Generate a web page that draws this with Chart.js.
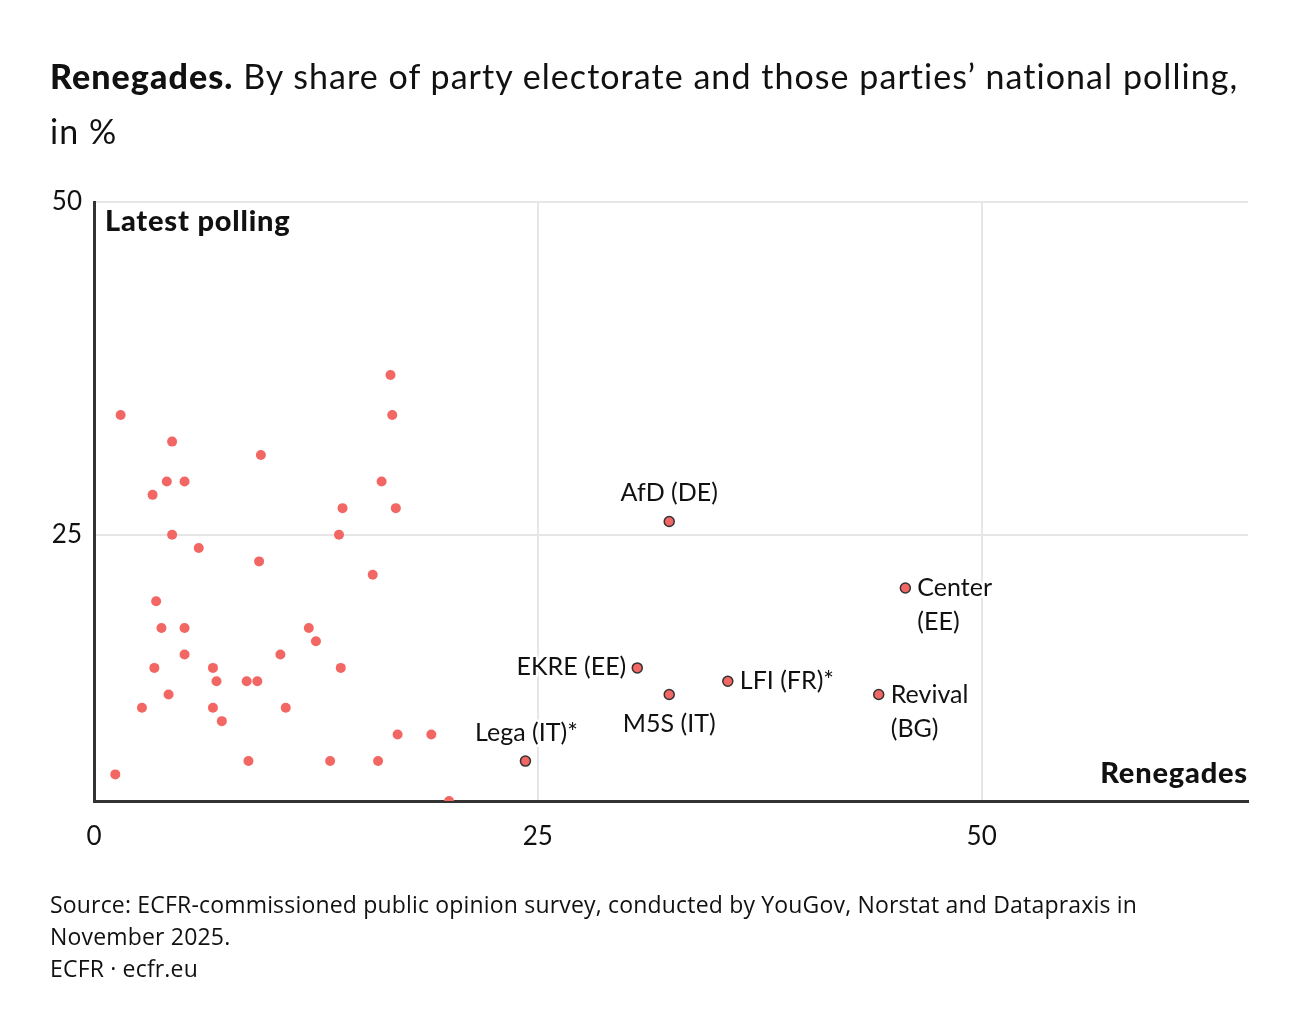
<!DOCTYPE html>
<html>
<head>
<meta charset="utf-8">
<script src="https://cdn.jsdelivr.net/npm/chart.js@4.4.1/dist/chart.umd.min.js"></script>
<style>
  body { margin: 0; background: #fff; font-family: Lato, "Open Sans", sans-serif; color: #111; }
  #wrap { position: relative; width: 1300px; height: 1036px; }
  #chart { position: absolute; left: 0; top: 0; }
  .title { position: absolute; left: 50px; font-size: 34px; line-height: 40px; letter-spacing: 1.05px; white-space: nowrap; }
  .title b { font-weight: 900; }
  .foot { position: absolute; left: 50px; top: 888px; font-size: 23px; line-height: 32px; letter-spacing: 0.18px; font-family: "Open Sans", sans-serif; }
</style>
</head>
<body>
<div id="wrap">
  <canvas id="chart" width="1300" height="1036"></canvas>
  <div class="title" style="top:56px"><b>Renegades.</b> By share of party electorate and those parties’ national polling,</div>
  <div class="title" style="top:111px">in %</div>
  <div class="foot">Source: ECFR-commissioned public opinion survey, conducted by YouGov, Norstat and Datapraxis in<br>November 2025.<br>ECFR · ecfr.eu</div>
</div>
<script>
// other parties (unlabelled)
const renegades = [1.5, 4.4, 9.4, 4.1, 5.1, 3.3, 4.4, 5.9, 9.3, 3.5, 3.8, 5.1, 12.1, 5.1, 10.5, 3.4, 6.7, 6.9, 8.6, 9.2, 4.2, 2.7, 6.7, 10.8, 7.2, 8.7, 1.2,
  16.7, 16.8, 16.2, 14.0, 17.0, 13.8, 15.7, 12.5, 13.9, 17.1, 19.0, 13.3, 16.0, 20.0];
const polling = [34, 32, 31, 29, 29, 28, 25, 24, 23, 20, 18, 18, 18, 16, 16, 15, 15, 14, 14, 14, 13, 12, 12, 12, 11, 8, 7,
  37, 34, 29, 27, 27, 25, 22, 17, 15, 10, 10, 8, 8, 5];

// highlighted parties
const partyNames = ['AfD (DE)', 'Center (EE)', 'EKRE (EE)', 'M5S (IT)', 'LFI (FR)*', 'Lega (IT)*', 'Revival (BG)'];
const partyRenegades = [32.4, 45.7, 30.6, 32.4, 35.7, 24.3, 44.2];
const partyPolling = [26, 21, 15, 13, 14, 8, 13];

const xTicks = [0, 25, 50];
const yTicks = [25, 50];

const red = '#f26764';

// where each label sits relative to its point
const labelPos = {
  'AfD (DE)': { lines: ['AfD (DE)'], align: 'center', dx: 0, dy: -29 },
  'Center (EE)': { lines: ['Center', '(EE)'], align: 'left', dx: 12, dy: 0 },
  'EKRE (EE)': { lines: ['EKRE (EE)'], align: 'right', dx: -11, dy: -1 },
  'M5S (IT)': { lines: ['M5S (IT)'], align: 'center', dx: 0, dy: 29 },
  'LFI (FR)*': { lines: ['LFI (FR)*'], align: 'left', dx: 12, dy: 0 },
  'Lega (IT)*': { lines: ['Lega (IT)*'], align: 'center', dx: 1, dy: -28 },
  'Revival (BG)': { lines: ['Revival', '(BG)'], align: 'left', dx: 12, dy: 0 }
};

const labelsPlugin = {
  id: 'labels',
  afterDatasetsDraw(chart) {
    const ctx = chart.ctx;
    const xs = chart.scales.x, ys = chart.scales.y;
    const area = chart.chartArea;
    ctx.save();
    ctx.textBaseline = 'middle';
    ctx.lineJoin = 'round';

    partyNames.forEach((name, i) => {
      const p = labelPos[name];
      const px = xs.getPixelForValue(partyRenegades[i]) + p.dx;
      const py = ys.getPixelForValue(partyPolling[i]) + p.dy;
      ctx.font = '25px Lato, sans-serif';
      ctx.textAlign = p.align;
      p.lines.forEach((t, k) => {
        ctx.strokeStyle = '#fff';
        ctx.lineWidth = 5;
        ctx.strokeText(t, px, py + k * 34);
        ctx.fillStyle = '#111';
        ctx.fillText(t, px, py + k * 34);
      });
    });

    // axis titles
    ctx.font = '900 29px Lato, sans-serif';
    ctx.letterSpacing = '0.8px';
    ctx.fillStyle = '#111';
    ctx.textAlign = 'left';
    ctx.fillText('Latest polling', area.left + 11, area.top + 20);
    ctx.textAlign = 'right';
    ctx.fillText('Renegades', area.right, area.bottom - 27);
    ctx.restore();
  }
};

const otherPts = renegades.map((x, i) => ({ x: x, y: polling[i] }));
const partyPts = partyRenegades.map((x, i) => ({ x: x, y: partyPolling[i] }));

new Chart(document.getElementById('chart'), {
  type: 'scatter',
  data: {
    datasets: [
      {
        label: 'Other parties',
        data: otherPts,
        backgroundColor: red,
        borderWidth: 0,
        pointRadius: 5,
        pointHoverRadius: 5
      },
      {
        label: 'Highlighted',
        data: partyPts,
        backgroundColor: red,
        borderColor: '#333',
        borderWidth: 1.5,
        pointRadius: 5,
        pointHoverRadius: 5
      }
    ]
  },
  options: {
    responsive: false,
    animation: false,
    events: [],
    layout: { padding: { top: 202, right: 52, bottom: 175, left: 0 } },
    plugins: { legend: { display: false }, tooltip: { enabled: false } },
    scales: {
      x: {
        type: 'linear',
        min: 0,
        max: 65,
        afterBuildTicks: s => { s.ticks = xTicks.map(v => ({ value: v })); },
        afterFit: s => { s.height = 60; },
        grid: { color: '#e6e6e6', lineWidth: 2, drawTicks: false },
        border: { display: true, color: '#333', width: 3 },
        ticks: { color: '#111', font: { family: 'Lato', size: 26 }, padding: 20 }
      },
      y: {
        type: 'linear',
        min: 5,
        max: 50,
        afterBuildTicks: s => { s.ticks = yTicks.map(v => ({ value: v })); },
        afterFit: s => { s.width = 94; },
        grid: { color: '#e6e6e6', lineWidth: 2, drawTicks: false },
        border: { display: true, color: '#333', width: 3 },
        ticks: { color: '#111', font: { family: 'Lato', size: 26 }, padding: 12 }
      }
    }
  },
  plugins: [labelsPlugin]
});
</script>
</body>
</html>
